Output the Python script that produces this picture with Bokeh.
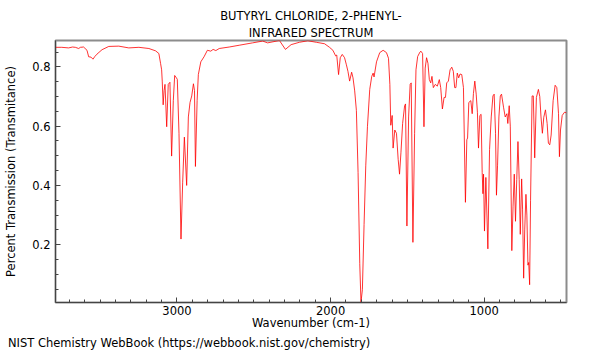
from bokeh.plotting import figure
from bokeh.layouts import column
from bokeh.models import Range1d, FixedTicker, Title, ColumnDataSource, Div
from bokeh.embed import file_html
from bokeh.resources import INLINE

wavenumber = [3790, 3750, 3706, 3680, 3662, 3640, 3629, 3608, 3586, 3575, 3560, 3547, 3535, 3521,
              3488, 3444, 3379, 3314, 3248, 3183, 3139, 3118, 3107, 3100, 3096, 3090, 3084, 3078,
              3067, 3057, 3046, 3035, 3024, 3015, 3004, 2998, 2987, 2974, 2963, 2952, 2937, 2926,
              2915, 2904, 2893, 2886, 2880, 2869, 2861, 2845, 2824, 2802, 2780, 2765, 2747, 2725,
              2660, 2595, 2508, 2442, 2410, 2333, 2294, 2257, 2203, 2148, 2093, 2039, 2007, 1985,
              1967, 1960, 1948, 1937, 1924, 1909, 1897, 1887, 1876, 1863, 1854, 1843, 1832, 1821,
              1810, 1802, 1793, 1782, 1771, 1760, 1745, 1732, 1723, 1717, 1701, 1680, 1658, 1636,
              1623, 1614, 1608, 1599, 1593, 1582, 1571, 1560, 1551, 1542, 1531, 1518, 1512, 1503,
              1492, 1482, 1475, 1464, 1453, 1444, 1433, 1418, 1412, 1401, 1392, 1384, 1375, 1366,
              1357, 1348, 1340, 1331, 1318, 1305, 1292, 1283, 1272, 1261, 1252, 1244, 1233, 1222,
              1211, 1201, 1192, 1184, 1175, 1166, 1157, 1146, 1135, 1122, 1113, 1108, 1100, 1087,
              1078, 1070, 1061, 1052, 1044, 1037, 1028, 1020, 1013, 1008, 1004, 998, 989, 976,
              965, 954, 943, 935, 926, 920, 913, 904, 895, 887, 874, 863, 852, 846, 837, 830, 820,
              812, 804, 796, 788, 780, 772, 765, 756, 750, 743, 736, 728, 722, 715, 710, 704, 698,
              688, 680, 671, 660, 647, 638, 630, 621, 612, 601, 590, 582, 573, 564, 551, 538, 527,
              516, 510, 503, 492, 477, 465]

transmittance = [0.866, 0.866, 0.864, 0.867, 0.866, 0.862, 0.866, 0.867, 0.856, 0.834, 0.833, 0.826,
                 0.835, 0.843, 0.858, 0.869, 0.870, 0.864, 0.866, 0.862, 0.854, 0.845, 0.812, 0.790,
                 0.752, 0.672, 0.720, 0.741, 0.598, 0.741, 0.748, 0.499, 0.686, 0.771, 0.763, 0.758,
                 0.576, 0.219, 0.411, 0.563, 0.400, 0.631, 0.680, 0.702, 0.743, 0.720, 0.464, 0.686,
                 0.774, 0.817, 0.834, 0.856, 0.853, 0.859, 0.855, 0.862, 0.867, 0.873, 0.881, 0.887,
                 0.881, 0.889, 0.859, 0.875, 0.883, 0.888, 0.883, 0.878, 0.866, 0.856, 0.837, 0.840,
                 0.774, 0.831, 0.842, 0.831, 0.807, 0.785, 0.752, 0.782, 0.763, 0.719, 0.653, 0.444,
                 0.136, 0.006, 0.048, 0.268, 0.466, 0.598, 0.724, 0.768, 0.779, 0.766, 0.817, 0.848,
                 0.856, 0.848, 0.829, 0.741, 0.603, 0.636, 0.526, 0.587, 0.576, 0.488, 0.438, 0.510,
                 0.609, 0.669, 0.675, 0.263, 0.631, 0.741, 0.746, 0.208, 0.576, 0.790, 0.835, 0.850,
                 0.853, 0.845, 0.598, 0.796, 0.831, 0.812, 0.757, 0.746, 0.768, 0.730, 0.741, 0.735,
                 0.757, 0.730, 0.658, 0.697, 0.697, 0.746, 0.752, 0.790, 0.799, 0.785, 0.730, 0.730,
                 0.779, 0.763, 0.776, 0.774, 0.730, 0.343, 0.554, 0.560, 0.680, 0.686, 0.642, 0.710,
                 0.752, 0.708, 0.647, 0.526, 0.636, 0.640, 0.444, 0.372, 0.438, 0.246, 0.427, 0.186,
                 0.521, 0.631, 0.702, 0.708, 0.576, 0.367, 0.466, 0.631, 0.702, 0.708, 0.664, 0.631,
                 0.642, 0.609, 0.669, 0.600, 0.180, 0.330, 0.438, 0.279, 0.420, 0.548, 0.420, 0.235,
                 0.422, 0.320, 0.087, 0.250, 0.370, 0.300, 0.131, 0.140, 0.065, 0.350, 0.702, 0.702,
                 0.493, 0.697, 0.724, 0.700, 0.631, 0.576, 0.630, 0.655, 0.609, 0.543, 0.537, 0.570,
                 0.686, 0.738, 0.730, 0.642, 0.497, 0.587, 0.636, 0.647, 0.645]

x_major_ticks = [1000, 2000, 3000]
x_minor_ticks = list(range(500, 3800, 100))
y_major_ticks = [0.2, 0.4, 0.6, 0.8]
y_minor_ticks = [0.05, 0.1, 0.15, 0.25, 0.3, 0.35, 0.45, 0.5, 0.55, 0.65, 0.7, 0.75, 0.85]

title_line1 = "BUTYRYL CHLORIDE, 2-PHENYL-"
title_line2 = "INFRARED SPECTRUM"
x_label = "Wavenumber (cm-1)"
y_label = "Percent Transmission (Transmitance)"
credit = "NIST Chemistry WebBook (https://webbook.nist.gov/chemistry)"

FONT = "DejaVu Sans"
FS = "11.5px"

source = ColumnDataSource(data=dict(wn=wavenumber, t=transmittance))

p = figure(width=584, height=332, output_backend="svg", toolbar_location=None,
           x_range=Range1d(3791, 464), y_range=Range1d(0.005, 0.889),
           min_border_left=55, min_border_right=18, min_border_top=40, min_border_bottom=28,
           background_fill_color="white", border_fill_color="white")

p.line("wn", "t", source=source, line_color="#ff0000", line_width=1, line_alpha=0.8)

p.add_layout(Title(text=title_line2, align="center", text_font=FONT, text_font_size=FS,
                   text_font_style="normal", text_color="black", standoff=2), "above")
p.add_layout(Title(text=title_line1, align="center", text_font=FONT, text_font_size=FS,
                   text_font_style="normal", text_color="black", standoff=0), "above")

p.grid.visible = False
p.outline_line_color = "#8c8c8c"
p.outline_line_width = 2

p.xaxis.ticker = FixedTicker(ticks=x_major_ticks, minor_ticks=x_minor_ticks)
p.yaxis.ticker = FixedTicker(ticks=y_major_ticks, minor_ticks=y_minor_ticks)
p.xaxis.axis_label = x_label
p.yaxis.axis_label = y_label

for ax in (p.xaxis, p.yaxis):
    ax.axis_line_color = "#444444"
    ax.major_tick_line_color = "#444444"
    ax.minor_tick_line_color = "#444444"
    ax.major_tick_in = 5
    ax.major_tick_out = 0
    ax.minor_tick_in = 3
    ax.minor_tick_out = 0
    ax.major_label_text_font = FONT
    ax.major_label_text_font_size = FS
    ax.major_label_text_color = "black"
    ax.axis_label_text_font = FONT
    ax.axis_label_text_font_size = FS
    ax.axis_label_text_font_style = "normal"
    ax.axis_label_text_color = "black"

p.xaxis.major_label_standoff = 3
p.xaxis.axis_label_standoff = -2
p.yaxis.major_label_standoff = 5
p.yaxis.axis_label_standoff = 11

note = Div(text=credit, width=584, height=12,
           styles={"font-family": "DejaVu Sans", "font-size": "11.5px", "line-height": "12px",
                   "color": "black", "white-space": "nowrap", "padding-left": "3px"})

layout = column(p, note, spacing=0)

open("out.html", "w").write(file_html(layout, INLINE))
